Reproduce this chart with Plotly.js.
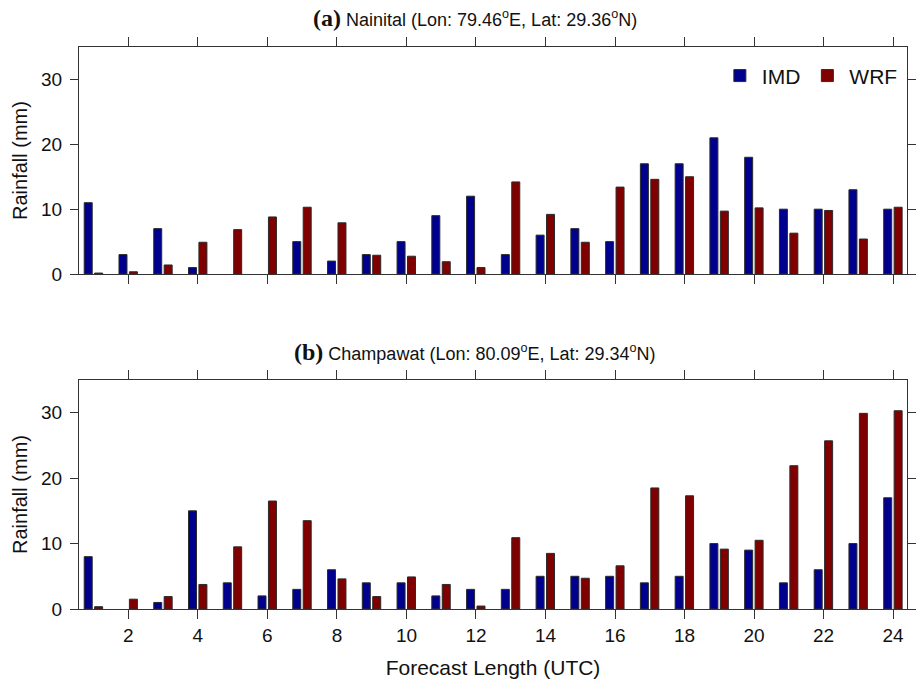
<!DOCTYPE html>
<html>
<head>
<meta charset="utf-8">
<script src="https://cdn.plot.ly/plotly-3.0.1.min.js"></script>
<style>html,body{margin:0;padding:0;background:#fff;}#chart{width:917px;height:680px;}</style>
</head>
<body>
<div id="chart"></div>
<script>
// Forecast hours
var hours = [1,2,3,4,5,6,7,8,9,10,11,12,13,14,15,16,17,18,19,20,21,22,23,24];
var tickVals = [2,4,6,8,10,12,14,16,18,20,22,24];
var yTicks = [0,10,20,30];

// (a) Nainital
var nainitalIMD = [11,3,7,1,0,0,5,2,3,5,9,12,3,6,7,5,17,17,21,18,10,10,13,10];
var nainitalWRF = [0.15,0.35,1.4,4.9,6.85,8.8,10.3,7.9,2.9,2.75,1.9,1.0,14.2,9.2,4.9,13.4,14.6,15.0,9.7,10.2,6.3,9.8,5.4,10.3];

// (b) Champawat
var champawatIMD = [8,0,1,15,4,2,3,6,4,4,2,3,3,5,5,5,4,5,10,9,4,6,10,17];
var champawatWRF = [0.35,1.5,1.9,3.75,9.5,16.5,13.5,4.6,1.9,4.9,3.75,0.45,10.9,8.5,4.7,6.6,18.5,17.3,9.15,10.5,21.9,25.7,29.9,30.3];

var imdColor = '#00008f';
var wrfColor = '#800000';
var sans = 'Liberation Sans, Arial, Helvetica, sans-serif';
var serif = 'Liberation Serif, Times New Roman, serif';

function bars(x, y, name, color, offset, xa, ya, show) {
  return {type:'bar', x:x, y:y, name:name, xaxis:xa, yaxis:ya,
    width:0.23, offset:offset, showlegend:show,
    marker:{color:color, line:{color:'#2a2a2a', width:y.map(function(v){return v > 0 ? 1 : 0;})}}};
}

var data = [
  bars(hours, nainitalIMD, 'IMD', imdColor, -0.27, 'x', 'y', true),
  bars(hours, nainitalWRF, 'WRF', wrfColor, 0.03, 'x', 'y', true),
  bars(hours, champawatIMD, 'IMD', imdColor, -0.27, 'x2', 'y2', false),
  bars(hours, champawatWRF, 'WRF', wrfColor, 0.03, 'x2', 'y2', false)
];

function xaxis(showLabels, anchor) {
  return {anchor:anchor, range:[0.58,24.4], tickvals:tickVals, ticks:'outside', ticklen:9,
    tickcolor:'#333', showline:true, linecolor:'#333', linewidth:1, mirror:'ticks',
    showgrid:false, zeroline:false, showticklabels:showLabels,
    tickfont:{family:sans, size:19, color:'#111'}};
}
function yaxis(domain, anchor) {
  return {anchor:anchor, domain:domain, range:[0,35], tickvals:yTicks, ticks:'outside', ticklen:8,
    tickcolor:'#333', showline:true, linecolor:'#333', linewidth:1, mirror:'ticks',
    showgrid:false, zeroline:false, ticklabelstandoff:4,
    tickfont:{family:sans, size:19, color:'#111'},
    title:{text:'Rainfall (mm)', font:{family:sans, size:20, color:'#111'}, standoff:8}};
}

var xa1 = xaxis(false, 'y');
var xa2 = xaxis(true, 'y2');
xa2.title = {text:'Forecast Length (UTC)', font:{family:sans, size:21, color:'#111'}, standoff:15};

function title(letter, place, lon, lat) {
  return '<span style="font-family:' + serif + ';font-size:24px;font-weight:bold">(' + letter + ')</span> ' +
    place + ' (Lon: ' + lon + '<sup>o</sup>E, Lat: ' + lat + '<sup>o</sup>N)';
}

var layout = {
  width:917, height:680,
  margin:{l:79, r:10, t:47, b:71},
  paper_bgcolor:'#fff', plot_bgcolor:'#fff',
  font:{family:sans, color:'#111'},
  barmode:'overlay',
  xaxis:xa1,
  yaxis:yaxis([0.596,1],'x'),
  xaxis2:xa2,
  yaxis2:yaxis([0,0.4075],'x2'),
  legend:{orientation:'h', x:0.995, xanchor:'right', y:0.985, yanchor:'top',
    bgcolor:'rgba(0,0,0,0)', font:{family:sans, size:21, color:'#111'},
    itemwidth:34, traceorder:'normal'},
  annotations:[
    {text:title('a','Nainital','79.46','29.36'), xref:'paper', yref:'paper', x:0.478, y:1.052,
      xanchor:'center', yanchor:'middle', showarrow:false, font:{family:sans, size:18, color:'#111'}},
    {text:title('b','Champawat','80.09','29.34'), xref:'paper', yref:'paper', x:0.478, y:0.457,
      xanchor:'center', yanchor:'middle', showarrow:false, font:{family:sans, size:18, color:'#111'}}
  ]
};

Plotly.newPlot('chart', data, layout, {displayModeBar:false, staticPlot:true});
</script>
</body>
</html>
